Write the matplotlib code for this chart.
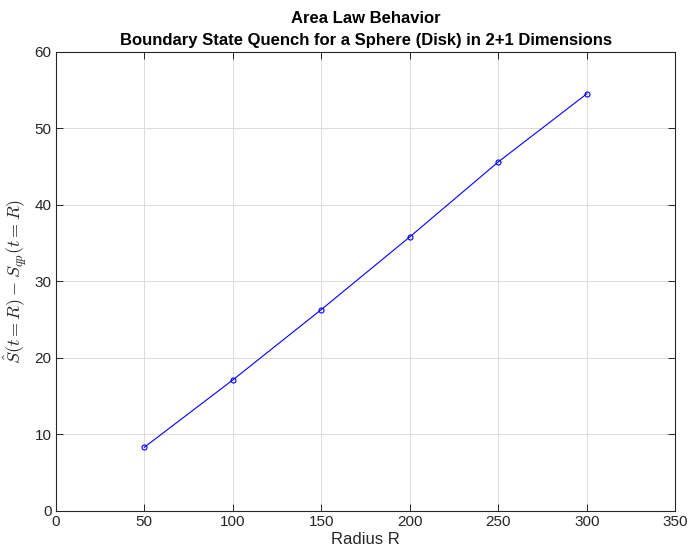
import matplotlib
matplotlib.use("Agg")
import matplotlib.pyplot as plt
import numpy as np

# данні з графіка
radius = [50, 100, 150, 200, 250, 300]
s_diff = [8.3, 17.1, 26.3, 35.8, 45.6, 54.5]
x_ticks = [0, 50, 100, 150, 200, 250, 300, 350]
y_ticks = [0, 10, 20, 30, 40, 50, 60]

plt.rcParams['font.family'] = ['Liberation Sans', 'DejaVu Sans']
plt.rcParams['mathtext.fontset'] = 'cm'

fig = plt.figure(figsize=(6.89, 5.51), dpi=100)
ax = fig.add_axes([0.081, 0.073, 0.899, 0.833])

ax.plot(radius, s_diff, color='#0000ff', linewidth=0.8, marker='o',
        markersize=3.6, markerfacecolor='none', markeredgewidth=0.8)

ax.set_xlim(0, 350)
ax.set_ylim(0, 60)
ax.set_xticks(x_ticks)
ax.set_yticks(y_ticks)
ax.grid(True, color='#dcdcdc', linewidth=0.7)
ax.set_axisbelow(True)
ax.tick_params(direction='in', top=True, right=True, labelsize=11,
               length=5, width=0.7, color='#262626', labelcolor='#262626', pad=3)
for s in ax.spines.values():
    s.set_color('#262626')
    s.set_linewidth(0.8)

ax.set_xlabel('Radius R', fontsize=12, color='#262626', labelpad=2)
ax.set_ylabel(r'$\hat{S}(t=R)-S_{qp}(t=R)$', fontsize=13, color='#262626', labelpad=4)
ax.set_title('Area Law Behavior\nBoundary State Quench for a Sphere (Disk) in 2+1 Dimensions',
             fontsize=12, fontweight='bold', linespacing=1.6, pad=5)

fig.savefig('out.png', dpi=100)
